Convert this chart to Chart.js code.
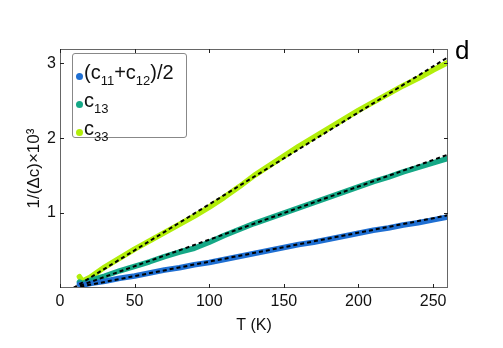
<!DOCTYPE html>
<html>
<head>
<meta charset="utf-8">
<script src="https://cdn.jsdelivr.net/npm/chart.js@4.4.1/dist/chart.umd.min.js"></script>
<style>
  html, body { margin: 0; padding: 0; background: #fff; }
  #wrap { position: relative; width: 503px; height: 348px; font-family: "Liberation Sans", Arial, sans-serif; }
  #legend {
    position: absolute; left: 72px; top: 53px; width: 115px; height: 85px;
    border: 1px solid #888; border-radius: 3px; background: #fff; box-sizing: border-box;
  }
  .row { position: absolute; left: 0; font-size: 20px; line-height: 20px; color: #111; white-space: nowrap; }
  .row sub { font-size: 13px; vertical-align: -6px; line-height: 0; }
  .dot { display: inline-block; width: 7px; height: 7px; border-radius: 50%; margin: 0 1px 0 3px; vertical-align: -1px; }
  #panel { position: absolute; left: 455px; top: 35px; font-size: 26px; color: #000; }
</style>
</head>
<body>
<div id="wrap">
  <canvas id="myChart" width="503" height="348"></canvas>
  <div id="legend">
    <div class="row" style="top:8px"><span class="dot" style="background:#1F6FD2"></span>(c<sub>11</sub>+c<sub>12</sub>)/2</div>
    <div class="row" style="top:36px"><span class="dot" style="background:#15A886"></span>c<sub>13</sub></div>
    <div class="row" style="top:64px"><span class="dot" style="background:#B2EE0A"></span>c<sub>33</sub></div>
  </div>
  <div id="panel">d</div>
</div>
<script>
// Datos
const temps = [13, 15, 20, 30, 40, 50, 60, 70, 80, 90, 100, 110, 120, 130, 140, 150, 160, 170, 180, 190, 200, 210, 220, 230, 240, 250, 260];
const c11c12 = [0.05, 0.04, 0.06, 0.09, 0.13, 0.16, 0.20, 0.24, 0.27, 0.31, 0.34, 0.38, 0.42, 0.46, 0.50, 0.54, 0.58, 0.61, 0.65, 0.69, 0.73, 0.77, 0.80, 0.84, 0.87, 0.91, 0.95];
const c13 = [0.08, 0.06, 0.10, 0.16, 0.23, 0.29, 0.35, 0.42, 0.48, 0.53, 0.61, 0.70, 0.78, 0.86, 0.93, 1.00, 1.07, 1.14, 1.21, 1.28, 1.35, 1.42, 1.48, 1.55, 1.61, 1.67, 1.73];
const c33 = [0.15, 0.09, 0.14, 0.28, 0.40, 0.52, 0.63, 0.74, 0.85, 0.96, 1.08, 1.21, 1.35, 1.50, 1.63, 1.76, 1.89, 2.01, 2.13, 2.25, 2.37, 2.48, 2.59, 2.70, 2.80, 2.91, 3.01];

// Ajustes lineales (líneas discontinuas)
const fitT = [9, 260];
const fitC11c12 = [0, 0.97];
const fitC13 = [0, 1.78];
const fitC33 = [0, 3.08];

const xTicks = [0, 50, 100, 150, 200, 250];
const yTicks = [1, 2, 3];

const colors = ['#1F6FD2', '#15A886', '#B2EE0A'];

function pts(xs, ys) {
  return xs.map((x, i) => ({ x: x, y: ys[i] }));
}

function dataSet(values, color) {
  return {
    data: pts(temps, values),
    borderColor: color,
    borderWidth: 5.5,
    borderCapStyle: 'round',
    borderJoinStyle: 'round',
    pointRadius: 0,
    tension: 0,
    order: 1
  };
}

function fitSet(values) {
  return {
    data: pts(fitT, values),
    borderColor: '#000',
    borderWidth: 2,
    borderDash: [4, 3],
    pointRadius: 0,
    order: 0
  };
}

// Marco y marcas hacia dentro
const framePlugin = {
  id: 'frame',
  afterDraw(chart) {
    const { ctx, chartArea: a, scales } = chart;
    ctx.save();
    ctx.strokeStyle = '#666';
    ctx.lineWidth = 1;
    ctx.strokeRect(a.left + 0.5, a.top + 0.5, a.right - a.left - 1, a.bottom - a.top - 1);
    ctx.strokeStyle = '#222';
    ctx.beginPath();
    xTicks.forEach(v => {
      const px = Math.round(scales.x.getPixelForValue(v)) + 0.5;
      ctx.moveTo(px, a.bottom); ctx.lineTo(px, a.bottom - 4);
      ctx.moveTo(px, a.top); ctx.lineTo(px, a.top + 4);
    });
    yTicks.forEach(v => {
      const py = Math.round(scales.y.getPixelForValue(v)) + 0.5;
      ctx.moveTo(a.left, py); ctx.lineTo(a.left + 4, py);
      ctx.moveTo(a.right, py); ctx.lineTo(a.right - 4, py);
    });
    ctx.stroke();
    ctx.restore();
  }
};

const ctx = document.getElementById('myChart').getContext('2d');
const myChart = new Chart(ctx, {
  type: 'line',
  data: {
    datasets: [
      fitSet(fitC11c12),
      fitSet(fitC13),
      fitSet(fitC33),
      dataSet(c11c12, colors[0]),
      dataSet(c13, colors[1]),
      dataSet(c33, colors[2])
    ]
  },
  options: {
    responsive: false,
    animation: false,
    layout: { padding: { top: 49, right: 55, left: 0, bottom: 0 } },
    plugins: { legend: { display: false }, tooltip: { enabled: false } },
    scales: {
      x: {
        type: 'linear',
        min: 0,
        max: 260,
        afterBuildTicks: s => { s.ticks = xTicks.map(v => ({ value: v })); },
        afterFit: s => { s.height = 60; },
        grid: { display: false },
        border: { display: false },
        ticks: { color: '#111', font: { family: 'Liberation Sans', size: 16 }, padding: -4, maxRotation: 0 },
        title: { display: true, text: 'T (K)', color: '#111', font: { family: 'Liberation Sans', size: 16 }, padding: { bottom: 13 } }
      },
      y: {
        min: 0,
        max: 3.19,
        afterBuildTicks: s => { s.ticks = yTicks.map(v => ({ value: v })); },
        afterFit: s => { s.width = 60; },
        grid: { display: false },
        border: { display: false },
        ticks: { color: '#111', font: { family: 'Liberation Sans', size: 16 }, padding: -4 },
        title: { display: true, text: '1/(Δc)×10³', color: '#111', font: { family: 'Liberation Sans', size: 17 }, padding: { top: 24 } }
      }
    }
  },
  plugins: [framePlugin]
});
</script>
</body>
</html>
